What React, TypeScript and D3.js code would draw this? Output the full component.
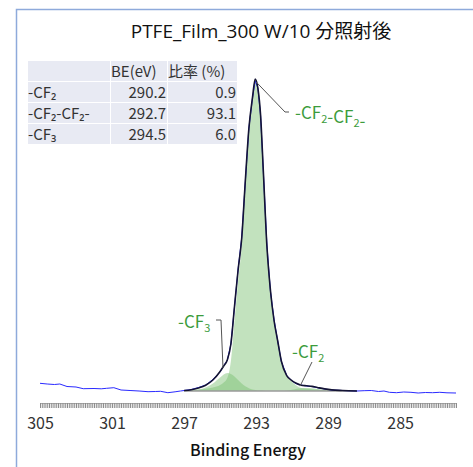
import { useEffect, useRef } from "react";
import { select, scaleLinear, line, area, curveMonotoneX, curveLinear, axisBottom, range } from "d3";

const title = "PTFE_Film_300 W/10 分照射後";
const xLabel = "Binding Energy";
const xTicks = [305, 301, 297, 293, 289, 285];

// measured spectrum (BE in eV, counts)
const rawBE = [
  305.0, 304.6, 304.2, 303.9, 303.5, 303.0, 302.6, 302.0, 301.6, 301.3, 300.9, 300.5, 300.0,
  299.5, 299.0, 298.6, 298.3, 297.9, 297.5, 297.2, 297.0, 296.6, 296.2, 295.8, 295.4, 295.0,
  294.8, 294.6, 294.4, 294.2, 294.0, 293.8, 293.6, 293.4, 293.2, 293.05, 292.9, 292.75, 292.6,
  292.4, 292.2, 292.0, 291.8, 291.6, 291.3, 291.0, 290.8, 290.5, 290.2, 289.9, 289.6, 289.2,
  288.8, 288.2, 287.4, 287.0, 286.6, 286.2, 285.9, 285.6, 285.2, 284.8, 284.4, 284.0, 283.6,
  283.2, 282.8, 282.4, 281.9,
];
const rawCounts = [
  2770, 2700, 2650, 2700, 2450, 2400, 2230, 2250, 2220, 2270, 2330, 2100, 2050,
  2000, 1930, 1950, 1970, 1830, 1920, 2000, 2050, 2150, 2350, 2600, 3150, 3900,
  4550, 5050, 6700, 10400, 14200, 17300, 22900, 28300, 31300, 33000, 32300, 29500, 24000,
  16600, 11900, 9100, 7000, 4950, 3550, 3000, 2750, 2600, 2500, 2450, 2330, 2200,
  2100, 2050, 2000, 2030, 2050, 1950, 2000, 1870, 1830, 1900, 1870, 1800, 1850,
  1830, 1870, 1820, 1800,
];

// fitted components on a shared BE grid
const fitBE = [
  297.0, 296.6, 296.2, 295.8, 295.4, 295.0, 294.8, 294.6, 294.4, 294.2, 294.0, 293.8, 293.6,
  293.4, 293.2, 293.05, 292.9, 292.75, 292.6, 292.4, 292.2, 292.0, 291.8, 291.6, 291.3, 291.0,
  290.8, 290.5, 290.2, 289.9, 289.6, 289.2, 288.8, 288.2, 287.4,
];
const fitBackground = 2000;
const cf2cf2Fit = [
  50, 90, 150, 230, 350, 600, 850, 1300, 3000, 7000, 11000, 14500, 20500,
  26000, 29200, 31100, 30200, 27500, 22000, 14500, 10000, 7000, 5000, 3000, 1500, 900,
  600, 300, 220, 180, 150, 120, 90, 50, 0,
];
const cf3Fit = [
  0, 30, 150, 350, 750, 1350, 1650, 1800, 1700, 1450, 1100, 750, 480,
  280, 160, 100, 60, 40, 20, 0, 0, 0, 0, 0, 0, 0,
  0, 0, 0, 0, 0, 0, 0, 0, 0,
];
const cf2Fit = [
  0, 0, 0, 0, 0, 0, 0, 0, 0, 0, 0, 0, 0,
  0, 0, 0, 0, 0, 0, 0, 0, 0, 0, 0, 30, 120,
  200, 280, 300, 280, 200, 90, 20, 0, 0,
];

// peak table
const peakNames = ["-CF₂", "-CF₂-CF₂-", "-CF₃"];
const peakBE = [290.2, 292.7, 294.5];
const peakRatio = [0.9, 93.1, 6.0];

const FONT = "'Noto Sans CJK JP', 'Noto Sans', sans-serif";
const FONT_W = "'Open Sans', 'Noto Sans CJK JP', sans-serif";

export default function App() {
  const svgRef = useRef<SVGSVGElement>(null);

  useEffect(() => {
    const svg = select(svgRef.current);
    svg.selectAll("*").remove();

    const x = scaleLinear().domain([305, 281.9]).range([40, 456]);
    const y = scaleLinear().domain([1100, 37100]).range([400, 40]);

    // frame
    svg.append("rect")
      .attr("x", 16.5).attr("y", 9.5).attr("width", 520).attr("height", 520)
      .attr("fill", "none").attr("stroke", "#8eaadb").attr("stroke-width", 1.5);

    // title
    svg.append("text")
      .attr("x", 261).attr("y", 38).attr("text-anchor", "middle")
      .attr("font-family", FONT_W).attr("font-size", 19).attr("fill", "#111")
      .text(title);

    // component fills
    const compArea = (vals: number[]) =>
      area<number>()
        .x((_, i) => x(fitBE[i]))
        .y0(y(fitBackground))
        .y1((d) => y(fitBackground + d))
        .curve(curveMonotoneX)(vals);

    [cf2cf2Fit, cf3Fit, cf2Fit].forEach((vals) => {
      svg.append("path")
        .attr("d", compArea(vals))
        .attr("fill", "rgb(120,190,110)")
        .attr("fill-opacity", 0.45);
    });

    // background line
    svg.append("line")
      .attr("x1", x(fitBE[0])).attr("x2", x(fitBE[fitBE.length - 1]))
      .attr("y1", y(fitBackground)).attr("y2", y(fitBackground))
      .attr("stroke", "#9a9a9a").attr("stroke-width", 1.5);

    // raw spectrum
    svg.append("path")
      .attr("d", line<number>().x((_, i) => x(rawBE[i])).y((d) => y(d)).curve(curveLinear)(rawCounts))
      .attr("fill", "none").attr("stroke", "#2a2aff").attr("stroke-width", 1);

    // envelope
    const envelope = fitBE.map((_, i) => fitBackground + cf2cf2Fit[i] + cf3Fit[i] + cf2Fit[i]);
    svg.append("path")
      .attr("d", line<number>().x((_, i) => x(fitBE[i])).y((d) => y(d)).curve(curveMonotoneX)(envelope))
      .attr("fill", "none").attr("stroke", "#141433").attr("stroke-width", 1.6);

    // minor ticks
    const minor = range(2819, 3051).map((v) => v / 10);
    const gMinor = svg.append("g").attr("transform", "translate(0,403)")
      .call(axisBottom(x).tickValues(minor).tickSize(5).tickFormat(() => "").tickSizeOuter(0));
    gMinor.select(".domain").attr("stroke", "#b0b0b0");
    gMinor.selectAll(".tick line").attr("stroke", "#8c8c8c");

    // labels
    const gLab = svg.append("g").attr("transform", "translate(0,403)")
      .call(axisBottom(x).tickValues(xTicks).tickSize(0).tickPadding(15).tickFormat((d) => String(d)));
    gLab.select(".domain").remove();
    gLab.selectAll("text")
      .attr("font-family", FONT).attr("font-size", 16).attr("fill", "#333");

    svg.append("text")
      .attr("x", 248).attr("y", 456).attr("text-anchor", "middle")
      .attr("font-family", FONT).attr("font-size", 16).attr("font-weight", 500).attr("fill", "#111")
      .text(xLabel);

    // table
    const colX = [28, 111, 168];
    const colW = [82, 56, 69];
    const rowY = [61, 82, 103, 124];
    const rowH = 20;
    const cells: string[][] = [
      ["", "BE(eV)", "比率 (%)"],
      ...peakNames.map((n, i) => [n, peakBE[i].toFixed(1), peakRatio[i].toFixed(1)]),
    ];
    const tbl = svg.append("g");
    cells.forEach((row, r) => {
      row.forEach((txt, c) => {
        tbl.append("rect")
          .attr("x", colX[c]).attr("y", rowY[r]).attr("width", colW[c]).attr("height", rowH)
          .attr("fill", "#e8eaf3");
        const right = r > 0 && c > 0;
        tbl.append("text")
          .attr("x", right ? colX[c] + colW[c] - 1 : colX[c])
          .attr("y", rowY[r] + 16)
          .attr("text-anchor", right ? "end" : "start")
          .attr("font-family", FONT).attr("font-size", 15).attr("fill", "#333")
          .text(txt);
      });
    });

    // annotations
    const green = "#3c9c3c";
    const subLabel = (px: number, py: number, parts: [string, boolean][]) => {
      const t = svg.append("text").attr("x", px).attr("y", py)
        .attr("font-family", FONT).attr("font-size", 17).attr("fill", green);
      parts.forEach(([s, sub]) => {
        t.append("tspan")
          .attr("font-size", sub ? 11 : 17)
          .attr("dy", sub ? 4 : 0)
          .text(s);
        if (sub) t.append("tspan").attr("dy", -4).text("");
      });
    };
    const leader = (pts: [number, number][]) =>
      svg.append("path")
        .attr("d", line()(pts))
        .attr("fill", "none").attr("stroke", "#555").attr("stroke-width", 1);

    const apex = [x(fitBE[15]), y(envelope[15])] as [number, number];
    leader([[apex[0] + 1, apex[1] + 3], [285, 112], [289, 112]]);
    subLabel(295, 119, [["-CF", false], ["2", true], ["-CF", false], ["2", true], ["-", false]]);

    leader([[216, 320], [221, 320], [223, y(envelope[7]) + 8]]);
    subLabel(178, 328, [["-CF", false], ["3", true]]);

    leader([[312, 362], [300, y(envelope[27]) + 1]]);
    subLabel(292, 358, [["-CF", false], ["2", true]]);
  }, []);

  return (
    <svg
      ref={svgRef}
      width={473}
      height={467}
      style={{ position: "absolute", left: 0, top: 0, background: "#fff" }}
    />
  );
}
